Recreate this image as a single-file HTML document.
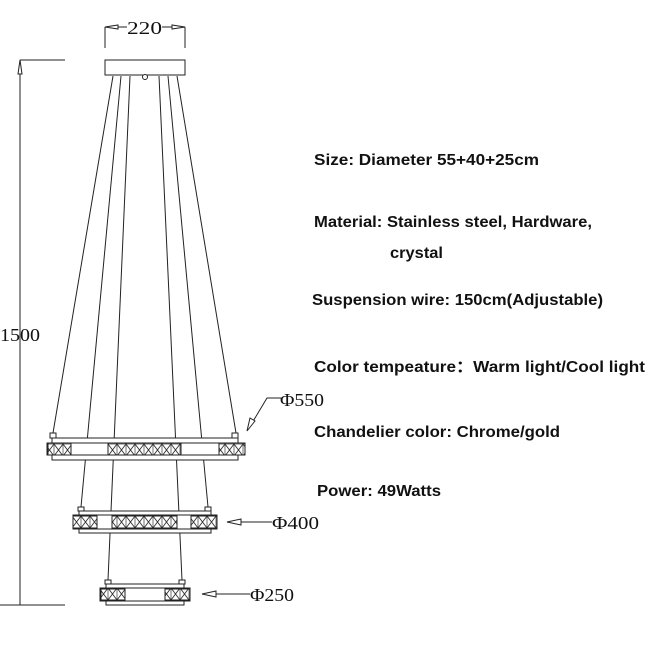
<!DOCTYPE html>
<html><head><meta charset="utf-8"><style>
html,body{margin:0;padding:0;background:#fff;}
svg{display:block}
.t{font-family:"Liberation Sans","Noto Sans CJK SC",sans-serif;font-size:16px;font-weight:bold;fill:#111}
.d{font-family:"Liberation Serif",serif;font-size:18px;fill:#111}
</style></head><body>
<svg width="650" height="650" viewBox="0 0 650 650" xmlns="http://www.w3.org/2000/svg">
<defs>
<pattern id="x" width="9" height="12" patternUnits="userSpaceOnUse">
<rect width="9" height="12" fill="#fff"/>
<path d="M0 0L9 12M9 0L0 12" stroke="#333" stroke-width="0.9"/>
<rect width="9" height="12" fill="none" stroke="#333" stroke-width="0.7"/>
</pattern>
</defs>
<g stroke="#222" fill="none" stroke-width="1">
<!-- 220 dimension -->
<line x1="105" y1="27" x2="105" y2="48"/><line x1="185" y1="27" x2="185" y2="48"/>
<line x1="105" y1="27" x2="127" y2="27"/><line x1="162" y1="27" x2="185" y2="27"/>
<path d="M105 27L118 25L118 29Z" fill="#fff"/><path d="M185 27L172 25L172 29Z" fill="#fff"/>
<!-- canopy -->
<rect x="105" y="60" width="80" height="15" fill="#fff"/>
<circle cx="145" cy="77" r="2.5" fill="#fff"/>
<!-- 1500 dimension -->
<line x1="20" y1="60" x2="65" y2="60"/>
<line x1="20" y1="60" x2="20" y2="605"/>
<path d="M20 60L18 74L22 74Z" fill="#fff"/>
<line x1="0" y1="605" x2="65" y2="605"/>
<!-- wires -->
<line x1="113" y1="76" x2="53" y2="433"/>
<line x1="177" y1="76" x2="236" y2="433"/>
<line x1="121" y1="76" x2="81" y2="507"/>
<line x1="168" y1="76" x2="208" y2="507"/>
<line x1="130" y1="76" x2="108" y2="580"/>
<line x1="159" y1="76" x2="182" y2="580"/>
<!-- ring 1 -->
<rect x="50" y="433" width="6" height="5" fill="#fff"/><rect x="232" y="433" width="6" height="5" fill="#fff"/>
<rect x="52" y="438" width="186" height="5" fill="#fff"/>
<rect x="47" y="443" width="198" height="12" fill="#fff"/>
<rect x="52" y="455" width="186" height="5" fill="#fff"/>
<rect x="48" y="443" width="23" height="12" fill="url(#x)"/>
<rect x="108" y="443" width="73" height="12" fill="url(#x)"/>
<rect x="219" y="443" width="26" height="12" fill="url(#x)"/>
<!-- ring 2 -->
<rect x="78" y="507" width="6" height="4" fill="#fff"/><rect x="205" y="507" width="6" height="4" fill="#fff"/>
<rect x="79" y="511" width="132" height="4" fill="#fff"/>
<rect x="73" y="515" width="144" height="14" fill="#fff"/>
<rect x="79" y="529" width="132" height="4" fill="#fff"/>
<rect x="73" y="516" width="24" height="12" fill="url(#x)"/>
<rect x="112" y="516" width="65" height="12" fill="url(#x)"/>
<rect x="191" y="516" width="26" height="12" fill="url(#x)"/>
<!-- ring 3 -->
<rect x="105" y="580" width="6" height="4" fill="#fff"/><rect x="179" y="580" width="6" height="4" fill="#fff"/>
<rect x="106" y="584" width="78" height="4" fill="#fff"/>
<rect x="100" y="588" width="90" height="13" fill="#fff"/>
<rect x="106" y="601" width="78" height="4" fill="#fff"/>
<rect x="101" y="589" width="24" height="11" fill="url(#x)"/>
<rect x="165" y="589" width="25" height="11" fill="url(#x)"/>
<!-- leaders -->
<path d="M281 398L267 398L249 428"/>
<path d="M247 431L250 418L255 421Z" fill="#fff"/>
<line x1="227" y1="522" x2="272" y2="522"/>
<path d="M227 522L241 519L241 525Z" fill="#fff"/>
<line x1="202" y1="594" x2="250" y2="594"/>
<path d="M202 594L216 591L216 597Z" fill="#fff"/>
</g>
<text class="d" x="127" y="34" textLength="35" lengthAdjust="spacingAndGlyphs">220</text>
<text class="d" x="0" y="341" textLength="40" lengthAdjust="spacingAndGlyphs">1500</text>
<text class="d" x="280" y="406" textLength="44" lengthAdjust="spacingAndGlyphs">Φ550</text>
<text class="d" x="272" y="529" textLength="47" lengthAdjust="spacingAndGlyphs">Φ400</text>
<text class="d" x="250" y="601" textLength="44" lengthAdjust="spacingAndGlyphs">Φ250</text>
<text class="t" x="314" y="165" textLength="225" lengthAdjust="spacingAndGlyphs">Size: Diameter 55+40+25cm</text>
<text class="t" x="314" y="227" textLength="278" lengthAdjust="spacingAndGlyphs">Material: Stainless steel, Hardware,</text>
<text class="t" x="390" y="258" textLength="53" lengthAdjust="spacingAndGlyphs">crystal</text>
<text class="t" x="312" y="305" textLength="291" lengthAdjust="spacingAndGlyphs">Suspension wire: 150cm(Adjustable)</text>
<text class="t" x="314" y="372" textLength="331" lengthAdjust="spacingAndGlyphs">Color tempeature：Warm light/Cool light</text>
<text class="t" x="314" y="437" textLength="246" lengthAdjust="spacingAndGlyphs">Chandelier color: Chrome/gold</text>
<text class="t" x="317" y="496" textLength="124" lengthAdjust="spacingAndGlyphs">Power: 49Watts</text>
</svg>
</body></html>
